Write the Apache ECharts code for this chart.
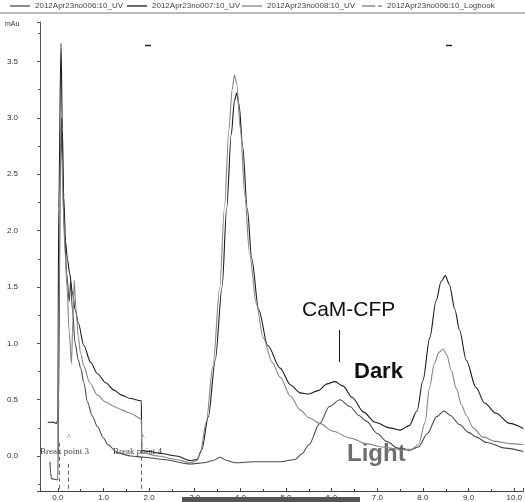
<!DOCTYPE html>
<html>
<head>
<meta charset="utf-8">
<script src="https://cdn.jsdelivr.net/npm/echarts@6/dist/echarts.min.js"></script>
<style>
  html, body { margin: 0; padding: 0; background: #fff; }
  #main { width: 525px; height: 502px; }
</style>
</head>
<body>
<div id="main"></div>
<script>
// run 007 - "Dark" (black trace)
const darkX = [-0.22, -0.1, -0.03, 0.0, 0.02, 0.07, 0.1, 0.13, 0.17, 0.21, 0.26, 0.32, 0.38, 0.45, 0.57, 0.72, 0.87, 1.05, 1.23, 1.4, 1.59, 1.83,
  1.84, 2.0, 2.3, 2.6, 2.9, 3.05, 3.15, 3.3, 3.45, 3.6, 3.7, 3.8, 3.87, 3.92, 3.97, 4.05, 4.15, 4.25, 4.4, 4.6, 4.87, 5.1, 5.31, 5.5, 5.7, 5.9,
  6.07, 6.25, 6.45, 6.7, 6.95, 7.27, 7.5, 7.7, 7.87, 8.0, 8.15, 8.29, 8.4, 8.49, 8.58, 8.7, 8.8, 8.95, 9.16, 9.35, 9.6, 9.9, 10.2];
const darkY = [0.30, 0.30, 0.29, 0.32, 2.2, 3.66, 2.9, 2.3, 1.9, 1.75, 1.62, 1.45, 1.30, 1.18, 0.98, 0.83, 0.73, 0.65, 0.585, 0.54, 0.51, 0.49,
  0.05, 0.04, 0.02, 0.0, -0.04, -0.03, 0.05, 0.35, 0.85, 1.5, 2.2, 2.85, 3.15, 3.22, 3.12, 2.75, 2.2, 1.75, 1.3, 0.98, 0.78, 0.63, 0.56, 0.55, 0.58, 0.64,
  0.66, 0.62, 0.52, 0.39, 0.30, 0.25, 0.23, 0.27, 0.40, 0.67, 1.05, 1.38, 1.55, 1.60, 1.52, 1.30, 1.12, 0.85, 0.61, 0.47, 0.38, 0.29, 0.245];

// run 008 - "Light" (light grey trace)
const lightX = [0.0, 0.03, 0.06, 0.09, 0.12, 0.16, 0.2, 0.25, 0.3, 0.33, 0.36, 0.4, 0.45, 0.5, 0.57, 0.7, 0.87, 1.05, 1.23, 1.4, 1.59, 1.83,
  1.84, 2.2, 2.6, 2.9, 3.05, 3.12, 3.25, 3.4, 3.55, 3.65, 3.75, 3.82, 3.87, 3.92, 4.0, 4.1, 4.2, 4.35, 4.5, 4.7, 4.87, 5.1, 5.31, 5.5, 5.74,
  6.03, 6.4, 6.76, 7.1, 7.49, 7.75, 7.9, 8.05, 8.14, 8.25, 8.35, 8.44, 8.52, 8.62, 8.73, 8.85, 8.95, 9.1, 9.31, 9.6, 9.9, 10.2];
const lightY = [0.05, 1.5, 2.7, 2.69, 2.2, 1.8, 1.5, 1.1, 0.82, 1.2, 1.56, 1.3, 1.05, 0.91, 0.80, 0.65, 0.54, 0.48, 0.44, 0.41, 0.38, 0.33,
  0.03, 0.0, -0.03, -0.06, -0.04, 0.02, 0.3, 0.8, 1.5, 2.2, 2.9, 3.25, 3.38, 3.3, 2.9, 2.3, 1.8, 1.35, 1.05, 0.83, 0.70, 0.53, 0.41, 0.34, 0.29,
  0.22, 0.16, 0.11, 0.08, 0.06, 0.06, 0.10, 0.30, 0.60, 0.82, 0.92, 0.95, 0.90, 0.76, 0.60, 0.45, 0.36, 0.25, 0.17, 0.13, 0.11, 0.10];

// run 006 (dark grey trace)
const run6X = [-0.17, -0.16, -0.14, 0.0, 0.02, 0.05, 0.08, 0.1, 0.14, 0.2, 0.25, 0.28, 0.32, 0.38, 0.45, 0.5, 0.57, 0.65, 0.75, 0.87, 1.0, 1.1,
  1.3, 1.6, 1.9, 2.3, 2.9, 3.2, 3.4, 3.56, 3.7, 3.9, 4.3, 4.9, 5.2, 5.35, 5.5, 5.74, 5.95, 6.18, 6.4, 6.6, 6.76, 7.0, 7.2, 7.45, 7.7,
  7.9, 8.1, 8.3, 8.46, 8.6, 8.8, 9.0, 9.16, 9.4, 9.8, 10.2];
const run6Y = [-0.05, -0.15, -0.2, -0.21, 0.5, 2.3, 3.0, 2.6, 2.0, 1.6, 1.37, 1.55, 1.3, 1.0, 0.85, 0.78, 0.65, 0.48, 0.36, 0.26, 0.16, 0.10,
  0.03, 0.0, -0.01, -0.03, -0.07, -0.06, -0.04, -0.01, -0.04, -0.06, -0.05, -0.05, -0.03, 0.02, 0.10, 0.29, 0.44, 0.50, 0.44, 0.36, 0.31, 0.20, 0.13, 0.07, 0.05,
  0.08, 0.20, 0.35, 0.40, 0.36, 0.28, 0.21, 0.17, 0.12, 0.07, 0.04];

// logbook break points (minutes)
const breakX = [0.03, 0.225, 1.83];
const breakTop = [0.12, -0.05, 0.12];

const seriesNames = ['2012Apr23no006:10_UV', '2012Apr23no007:10_UV', '2012Apr23no008:10_UV', '2012Apr23no006:10_Logbook'];

function zip(xs, ys) {
  return xs.map(function (x, i) { return [x, ys[i]]; });
}

const chart = echarts.init(document.getElementById('main'), null, { renderer: 'canvas' });

const legendCommon = {
  top: 2, padding: 0, itemWidth: 20, itemHeight: 1.3, selectedMode: false, itemGap: 4,
  textStyle: { fontSize: 8, color: '#444', fontFamily: 'Liberation Sans' }
};
const legendLeft = [10, 127, 242, 362];
const legendIcons = ['rect', 'rect', 'rect', 'path://M0,0H14V1H0Z M17,0H21V1H17Z'];

const option = {
  animation: false,
  backgroundColor: '#fff',
  legend: seriesNames.map(function (n, i) {
    return Object.assign({ data: [{ name: n, icon: legendIcons[i] }], left: legendLeft[i] }, legendCommon);
  }),
  grid: { left: 40, right: 0, top: 22, bottom: 11 },
  xAxis: {
    type: 'value', min: -0.39, max: 10.2, splitNumber: 10,
    axisLine: { onZero: false, lineStyle: { color: '#444', width: 1 } },
    axisTick: { inside: true, length: 3, lineStyle: { color: '#444' } },
    minorTick: { show: true, splitNumber: 2, length: 2, lineStyle: { color: '#444' } },
    axisLabel: {
      margin: 3, fontSize: 8, color: '#333', fontFamily: 'Liberation Sans',
      showMinLabel: false, showMaxLabel: false,
      formatter: function (v) { return v.toFixed(1); }
    },
    splitLine: { show: false }
  },
  yAxis: {
    type: 'value', min: -0.31, max: 3.85, splitNumber: 8,
    axisLine: { show: true, onZero: false, lineStyle: { color: '#555', width: 1 } },
    axisTick: { show: true, length: 3, lineStyle: { color: '#555' } },
    minorTick: { show: true, splitNumber: 2, length: 2, lineStyle: { color: '#555' } },
    axisLabel: {
      margin: 22, fontSize: 8, color: '#333', fontFamily: 'Liberation Sans',
      showMinLabel: false, showMaxLabel: false,
      formatter: function (v) { return v.toFixed(1); }
    },
    splitLine: { show: false }
  },
  series: [
    {
      name: seriesNames[0], type: 'line', data: zip(run6X, run6Y),
      symbol: 'none', smooth: 0.3, smoothMonotone: 'x',
      lineStyle: { color: '#4a4a4a', width: 1.1 }, itemStyle: { color: '#4a4a4a' }
    },
    {
      name: seriesNames[1], type: 'line', data: zip(darkX, darkY),
      symbol: 'none', smooth: 0.3, smoothMonotone: 'x',
      lineStyle: { color: '#1a1a1a', width: 1.1 }, itemStyle: { color: '#1a1a1a' }
    },
    {
      name: seriesNames[2], type: 'line', data: zip(lightX, lightY),
      symbol: 'none', smooth: 0.3, smoothMonotone: 'x',
      lineStyle: { color: '#858585', width: 1.1 }, itemStyle: { color: '#858585' }
    },
    {
      name: seriesNames[3], type: 'line', data: [],
      symbol: 'none',
      lineStyle: { color: '#555', width: 1, type: 'dashed' }, itemStyle: { color: '#555' },
      markLine: {
        silent: true, symbol: 'none', label: { show: false },
        lineStyle: { color: '#666', width: 1, type: [4, 3] },
        data: breakX.map(function (x, i) {
          return [{ coord: [x, -0.29] }, { coord: [x, breakTop[i]] }];
        })
      }
    }
  ],
  graphic: [
    { type: 'line', shape: { x1: 0, y1: 13, x2: 525, y2: 13 }, style: { stroke: '#777', lineWidth: 1 } },
    { type: 'text', left: 5, top: 21, style: { text: 'mAu', fontSize: 7, fill: '#333', fontFamily: 'Liberation Sans' } },
    { type: 'line', shape: { x1: 145, y1: 45.5, x2: 151, y2: 45.5 }, style: { stroke: '#222', lineWidth: 1.5 } },
    { type: 'line', shape: { x1: 446, y1: 45.5, x2: 452, y2: 45.5 }, style: { stroke: '#222', lineWidth: 1.5 } },
    { type: 'text', left: 40, top: 447, style: { text: 'Break point 3', fontSize: 9, fill: '#444', fontFamily: 'Liberation Serif' } },
    { type: 'text', left: 113, top: 447, style: { text: 'Break point 4', fontSize: 9, fill: '#444', fontFamily: 'Liberation Serif' } },
    { type: 'text', left: 67, top: 434, style: { text: '^', fontSize: 8, fill: '#555', fontFamily: 'Liberation Serif' } },
    { type: 'text', left: 141, top: 434, style: { text: '^', fontSize: 8, fill: '#555', fontFamily: 'Liberation Serif' } },
    { type: 'text', left: 302, top: 300, style: { text: 'CaM-CFP', fontSize: 21, fill: '#111', fontFamily: 'Liberation Sans' } },
    { type: 'line', shape: { x1: 339.5, y1: 330, x2: 339.5, y2: 362 }, style: { stroke: '#111', lineWidth: 1 } },
    { type: 'text', left: 354, top: 361, style: { text: 'Dark', fontSize: 22, fontWeight: 'bold', fill: '#111', fontFamily: 'Liberation Sans' } },
    { type: 'text', left: 347, top: 442, style: { text: 'Light', fontSize: 24, fontWeight: 'bold', fill: '#6e6e6e', fontFamily: 'Liberation Sans' } },
    { type: 'rect', shape: { x: 182, y: 497, width: 178, height: 6 }, style: { fill: '#555' }, z: 100 }
  ]
};

chart.setOption(option);
</script>
</body>
</html>
